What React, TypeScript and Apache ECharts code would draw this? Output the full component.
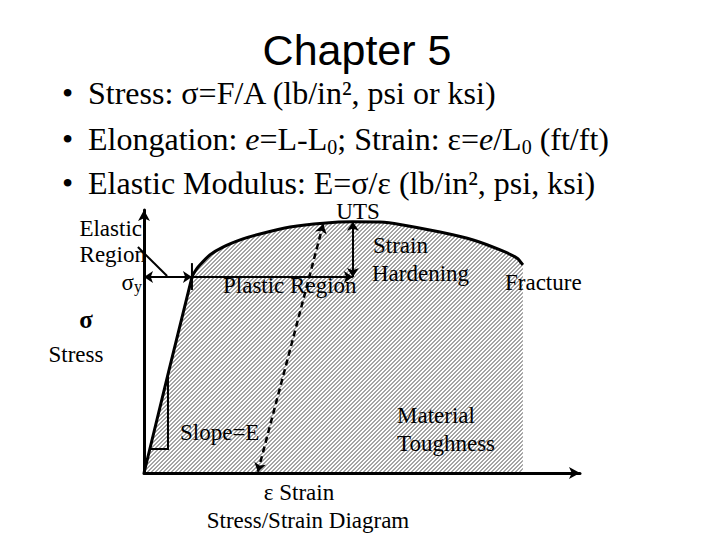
import React, { useEffect, useRef } from "react";
import * as echarts from "echarts";

// Stress-strain curve (arbitrary units: strain 0-100, stress 0-100)
const strain = [0, 11.0, 11.9, 12.8, 15.1, 18.1, 22.7, 26.6, 33.5, 41.1, 47.9, 54.1, 58.7, 67.9, 75.5, 81.7, 85.6, 86.9];
const stress = [0, 74.5, 77.2, 79.1, 82.9, 85.9, 89.0, 90.9, 93.5, 95.0, 95.5, 95.4, 94.5, 91.6, 88.6, 84.8, 81.7, 79.1];

const yieldPoint = [11.0, 74.5];
const utsPoint = [47.9, 95.5];
const unloadTop = [41.1, 94.6];
const unloadBottom = [26.1, 0.4];
const slopeTriangle = [[5.5, 37.5], [5.5, 9.1], [1.4, 9.1]];
const leaderLine = [[-1.4, 85.9], [5.3, 74.9]];
const yieldTick = [69.6, 79.8];

const titleText = "Chapter 5";
const bulletLines = [
  "Stress: σ=F/A (lb/in², psi or ksi)",
  "Elongation: {i|e}=L-L{sub|0}; Strain: ε={i|e}/L{sub|0} (ft/ft)",
  "Elastic Modulus: E=σ/ε (lb/in², psi, ksi)",
];

const SERIF = '"Liberation Serif", "Times New Roman", serif';
const SANS = '"Liberation Sans", Arial, sans-serif';

function makeHatch() {
  const c = document.createElement("canvas");
  c.width = 4;
  c.height = 4;
  const ctx = c.getContext("2d")!;
  ctx.fillStyle = "#ffffff";
  ctx.fillRect(0, 0, 4, 4);
  ctx.fillStyle = "#a4a4a4";
  for (let x = 0; x < 4; x++) {
    for (let y = 0; y < 4; y++) {
      const m = (x + y) % 4;
      if (m === 2 || m === 3) ctx.fillRect(x, y, 1, 1);
    }
  }
  return c;
}

function txt(text: string, x: number, y: number, size: number, align: string, extra: any = {}) {
  return {
    type: "text",
    x,
    y,
    z: 100,
    style: {
      text,
      fontSize: size,
      fontFamily: SERIF,
      fill: "#000",
      align,
      verticalAlign: "middle",
      lineHeight: Math.round(size * 0.95),
      ...extra,
    },
  };
}

export default function App() {
  const ref = useRef<HTMLDivElement>(null);
  useEffect(() => {
    if (!ref.current) return;
    const chart = echarts.init(ref.current, null, { renderer: "svg" });
    const hatch = makeHatch();
    const axisCommon = {
      type: "value",
      min: 0,
      max: 100,
      z: 10,
      axisTick: { show: false },
      axisLabel: { show: false },
      splitLine: { show: false },
    };
    const arrowLine = { color: "#000", width: 2, opacity: 1 };
    const graphics: any[] = [
      {
        type: "text",
        x: 357,
        y: 50,
        style: { text: titleText, fontSize: 43, fontFamily: SANS, fill: "#000", align: "center", verticalAlign: "middle" },
      },
    ];
    const bulletY = [93, 139, 183];
    bulletLines.forEach((line, i) => {
      graphics.push(txt("•", 62, bulletY[i], 32, "left", { lineHeight: 30 }));
      graphics.push(
        txt(line, 88, bulletY[i], 32, "left", {
          lineHeight: 36,
          rich: {
            i: { fontSize: 32, fontFamily: SERIF, fontStyle: "italic", lineHeight: 36 },
            sub: { fontSize: 20, fontFamily: SERIF, verticalAlign: "bottom", lineHeight: 20 },
          },
        })
      );
    });
    graphics.push(txt("UTS", 358, 211, 23, "center", { lineHeight: 20 }));
    graphics.push(txt("Elastic", 142, 228, 23, "right"));
    graphics.push(txt("Region", 146, 254, 23, "right"));
    graphics.push(
      txt("σ{s|y}", 142, 282, 23, "right", {
        lineHeight: 24,
        rich: { s: { fontSize: 16, fontFamily: SERIF, verticalAlign: "bottom", lineHeight: 16 } },
      })
    );
    graphics.push(txt("Plastic Region", 223, 285, 23, "left"));
    graphics.push(txt("Strain", 373, 245, 23, "left"));
    graphics.push(txt("Hardening", 372, 273, 23, "left"));
    graphics.push(txt("Fracture", 505, 282, 23, "left"));
    graphics.push(txt("σ", 86, 319, 25, "center", { fontWeight: "bold" }));
    graphics.push(txt("Stress", 76, 354, 23, "center"));
    graphics.push(txt("Slope=E", 180, 432, 23, "left"));
    graphics.push(txt("Material", 397, 415, 23, "left"));
    graphics.push(txt("Toughness", 397, 443, 23, "left"));
    graphics.push(txt("ε Strain", 299, 492, 23, "center"));
    graphics.push(txt("Stress/Strain Diagram", 308, 520, 23, "center"));

    chart.setOption({
      animation: false,
      backgroundColor: "#ffffff",
      grid: { left: 144, top: 210, width: 436, height: 263 },
      xAxis: {
        ...axisCommon,
        axisLine: {
          show: true,
          onZero: false,
          symbol: ["none", "arrow"],
          symbolSize: [9, 11],
          lineStyle: { color: "#000", width: 3 },
        },
      },
      yAxis: {
        ...axisCommon,
        axisLine: {
          show: true,
          onZero: false,
          symbol: ["none", "arrow"],
          symbolSize: [9, 11],
          lineStyle: { color: "#000", width: 3 },
        },
      },
      series: [
        {
          type: "line",
          data: strain.map((s, i) => [s, stress[i]]),
          smooth: 0.2,
          symbol: "none",
          lineStyle: { color: "#000", width: 3 },
          areaStyle: {
            origin: "start",
            opacity: 1,
            color: { image: hatch, repeat: "repeat", imageWidth: 4, imageHeight: 4 },
          },
          z: 2,
        },
        {
          type: "lines",
          coordinateSystem: "cartesian2d",
          clip: false,
          symbol: ["arrow", "arrow"],
          symbolSize: 9,
          lineStyle: arrowLine,
          data: [
            { coords: [[0, yieldPoint[1]], [yieldPoint[0], yieldPoint[1]]] },
            { coords: [[utsPoint[0], utsPoint[1]], [utsPoint[0], yieldPoint[1]]] },
          ],
          z: 5,
        },
        {
          type: "lines",
          coordinateSystem: "cartesian2d",
          clip: false,
          symbol: ["none", "arrow"],
          symbolSize: 9,
          lineStyle: arrowLine,
          data: [{ coords: [[yieldPoint[0], yieldPoint[1]], [utsPoint[0], yieldPoint[1]]] }],
          z: 5,
        },
        {
          type: "lines",
          coordinateSystem: "cartesian2d",
          clip: false,
          symbol: ["arrow", "arrow"],
          symbolSize: 9,
          lineStyle: { color: "#000", width: 2.5, type: [6, 4], opacity: 1 },
          data: [{ coords: [unloadTop, unloadBottom] }],
          z: 5,
        },
        {
          type: "lines",
          coordinateSystem: "cartesian2d",
          polyline: true,
          clip: false,
          symbol: "none",
          lineStyle: arrowLine,
          data: [
            { coords: slopeTriangle },
            { coords: leaderLine },
            { coords: [[yieldPoint[0], yieldTick[0]], [yieldPoint[0], yieldTick[1]]] },
          ],
          z: 5,
        },
      ],
      graphic: { elements: graphics },
    });
    return () => chart.dispose();
  }, []);
  return <div ref={ref} style={{ position: "fixed", left: 0, top: 0, width: 720, height: 540 }} />;
}
